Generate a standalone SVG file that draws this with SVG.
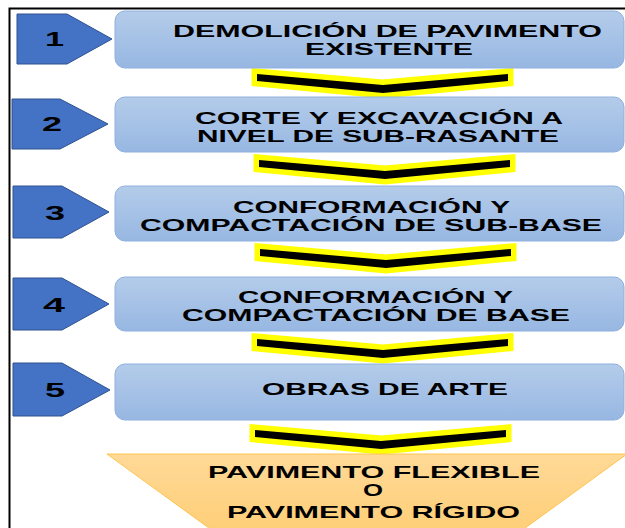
<svg xmlns="http://www.w3.org/2000/svg" width="625" height="528" viewBox="0 0 625 528">
<defs>
<linearGradient id="gb" x1="0" y1="0" x2="0" y2="1">
<stop offset="0" stop-color="#B4CCEA"/>
<stop offset="1" stop-color="#97B7E2"/>
</linearGradient>
<linearGradient id="go" x1="0" y1="0" x2="0" y2="1">
<stop offset="0" stop-color="#FFD997"/>
<stop offset="1" stop-color="#FFCF78"/>
</linearGradient>
<polygon id="chev" points="0,0 126,11 251,0 251,7 126,19 0,7"/>
</defs>
<style>
.num{font-family:"Liberation Sans",Arial,sans-serif;font-weight:bold;font-size:21px;fill:#000}
.t{font-family:"Liberation Sans",Arial,sans-serif;font-weight:bold;font-size:17px;fill:#000}
.s{font-size:16px}
.pent{fill:#4472C4;stroke:#2F528F;stroke-width:1}
.box{fill:url(#gb);stroke:#8EB0DE;stroke-width:1}
.ch{fill:#000;stroke:#FFFF00;stroke-width:11;stroke-linejoin:miter;paint-order:stroke}
</style>
<rect x="0" y="0" width="625" height="528" fill="#fff"/>
<rect x="9.5" y="8.5" width="640" height="540" fill="none" stroke="#000" stroke-width="2"/>

<g id="connectors">
<use href="#chev" class="ch" transform="translate(257,74)"/>
<use href="#chev" class="ch" transform="translate(259,160)"/>
<use href="#chev" class="ch" transform="translate(260,249)"/>
<use href="#chev" class="ch" transform="translate(257,339)"/>
<use href="#chev" class="ch" transform="translate(255,430)"/>
</g>

<g id="step1">
<polygon class="pent" points="17,14 67,14 112,39 67,64 17,64"/>
<text class="num" x="45" y="46" textLength="19" lengthAdjust="spacingAndGlyphs">1</text>
</g>
<g id="box1">
<rect class="box" x="115" y="11" width="509" height="57" rx="10"/>
<text class="t" x="173" y="37" textLength="429" lengthAdjust="spacingAndGlyphs">DEMOLICIÓN DE PAVIMENTO</text>
<text class="t" x="305" y="55" textLength="168" lengthAdjust="spacingAndGlyphs">EXISTENTE</text>
</g>

<g id="step2">
<polygon class="pent" points="12,99 60,99 108,124 60,149 12,149"/>
<text class="num" x="42" y="131" textLength="20" lengthAdjust="spacingAndGlyphs">2</text>
</g>
<g id="box2">
<rect class="box" x="115" y="97" width="509" height="55" rx="10"/>
<text class="t" x="195" y="124" textLength="368" lengthAdjust="spacingAndGlyphs">CORTE Y EXCAVACIÓN A</text>
<text class="t" x="197" y="142" textLength="362" lengthAdjust="spacingAndGlyphs">NIVEL DE SUB-RASANTE</text>
</g>

<g id="step3">
<polygon class="pent" points="13,186 62,186 109,212 62,238 13,238"/>
<text class="num" x="45" y="220" textLength="20" lengthAdjust="spacingAndGlyphs">3</text>
</g>
<g id="box3">
<rect class="box" x="115" y="186" width="509" height="55" rx="10"/>
<text class="t" x="233" y="213" textLength="277" lengthAdjust="spacingAndGlyphs">CONFORMACIÓN Y</text>
<text class="t" x="140" y="231" textLength="462" lengthAdjust="spacingAndGlyphs">COMPACTACIÓN DE SUB-BASE</text>
</g>

<g id="step4">
<polygon class="pent" points="13,278 62,278 109,304 62,330 13,330"/>
<text class="num" x="43" y="312" textLength="22" lengthAdjust="spacingAndGlyphs">4</text>
</g>
<g id="box4">
<rect class="box" x="115" y="277" width="509" height="54" rx="10"/>
<text class="t s" x="238" y="303" textLength="275" lengthAdjust="spacingAndGlyphs">CONFORMACIÓN Y</text>
<text class="t s" x="182" y="321" textLength="388" lengthAdjust="spacingAndGlyphs">COMPACTACIÓN DE BASE</text>
</g>

<g id="step5">
<polygon class="pent" points="13,363 62,363 110,390 62,416 13,416"/>
<text class="num" x="45" y="397" textLength="20" lengthAdjust="spacingAndGlyphs">5</text>
</g>
<g id="box5">
<rect class="box" x="115" y="364" width="509" height="56" rx="10"/>
<text class="t" x="262" y="395" textLength="246" lengthAdjust="spacingAndGlyphs">OBRAS DE ARTE</text>
</g>

<g id="result">
<polygon points="107,454 627,454 521,531 213,531" fill="url(#go)" stroke="#FFC44F" stroke-width="1"/>
<text class="t" x="208" y="478" textLength="332" lengthAdjust="spacingAndGlyphs">PAVIMENTO FLEXIBLE</text>
<text class="t" x="363" y="496" textLength="20" lengthAdjust="spacingAndGlyphs">O</text>
<text class="t" x="227" y="518" textLength="293" lengthAdjust="spacingAndGlyphs">PAVIMENTO RÍGIDO</text>
</g>
</svg>
